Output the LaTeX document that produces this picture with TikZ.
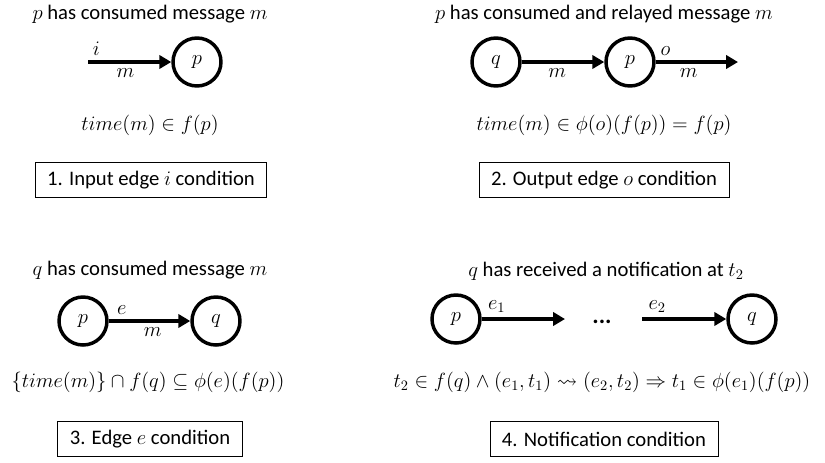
\documentclass[tikz,border=0pt]{standalone}
\usepackage{fix-cm}
\usepackage{amssymb}
\usepackage{amsmath}
\usepackage{fontspec}
\setmainfont{Carlito}
\usetikzlibrary{arrows.meta}

\begin{document}
\begin{tikzpicture}[x=0.75pt, y=-0.75pt, font=\fontsize{15.5}{18}\selectfont,
        proc/.style={circle, draw, line width=2.6pt, minimum size=36pt, inner sep=0pt},
        msg/.style={line width=2.4pt, -{Triangle[length=9pt, width=10pt]}},
        tag/.style={inner sep=3.5pt},
        law/.style={font=\fontsize{15.4}{18}\selectfont},
        cond/.style={draw, line width=0.7pt, minimum height=26pt, inner xsep=9pt}]
        \useasboundingbox (0,0) rectangle (825,462);

        % 1. input edge
        \node (t1) at (150, 14) {$p$ has consumed message $m$};
        \coordinate (in) at (88, 62);
        \node[proc] (p1) at (197, 62) {$p$};
        \draw[msg] (in) -- node[tag, above, pos=.1]{$i$} node[tag, below, pos=.45]{$m$} (p1);
        \node[law] (f1) at (150, 125) {$time(m) \in f(p)$};
        \node[cond] (c1) at (151, 180) {1. Input edge $i$ condition};

        % 2. output edge
        \node (t2) at (604, 14) {$p$ has consumed and relayed message $m$};
        \node[proc] (q2) at (496, 62) {$q$};
        \node[proc] (p2) at (630, 62) {$p$};
        \coordinate (out) at (738, 62);
        \draw[msg] (q2) -- node[tag, below, pos=.43]{$m$} (p2);
        \draw[msg] (p2) -- node[tag, above, pos=.12]{$o$} node[tag, below, pos=.4]{$m$} (out);
        \node[law] (f2) at (604, 125) {$time(m) \in \phi(o)(f(p)) = f(p)$};
        \node[cond] (c2) at (604, 180) {2. Output edge $o$ condition};

        % 3. edge
        \node (t3) at (150, 270) {$q$ has consumed message $m$};
        \node[proc] (p3) at (83, 321) {$p$};
        \node[proc] (q3) at (216, 321) {$q$};
        \draw[msg] (p3) -- node[tag, above, pos=.16]{$e$} node[tag, below, pos=.54]{$m$} (q3);
        \node[law] (f3) at (148, 382) {$\{time(m)\} \cap f(q) \subseteq \phi(e)(f(p))$};
        \node[cond] (c3) at (150, 439) {3. Edge $e$ condition};

        % 4. notification
        \node (t4) at (606, 271) {$q$ has received a notification at $t_2$};
        \node[proc] (p4) at (456, 319) {$p$};
        \coordinate (mid1) at (565, 319);
        \node[anchor=base, font=\bfseries\fontsize{18}{20}\selectfont] (dots) at (602, 323) {...};
        \coordinate (mid2) at (642, 319);
        \node[proc] (q4) at (752, 319) {$q$};
        \draw[msg] (p4) -- node[tag, above, pos=.18]{$e_1$} (mid1);
        \draw[msg] (mid2) -- node[tag, above, pos=.18]{$e_2$} (q4);
        \node[law] (f4) at (602, 382) {$t_2 \in f(q) \wedge (e_1, t_1) \rightsquigarrow (e_2, t_2) \Rightarrow t_1 \in \phi(e_1)(f(p))$};
        \node[cond] (c4) at (604, 439) {4. Notification condition};
\end{tikzpicture}
\end{document}
